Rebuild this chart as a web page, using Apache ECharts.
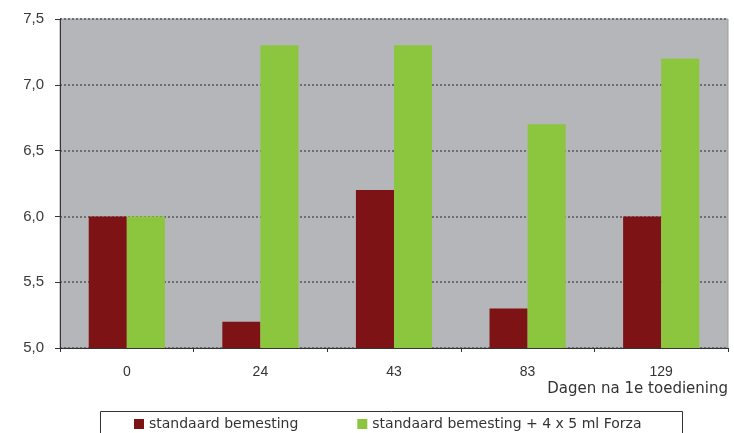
<!DOCTYPE html>
<html>
<head>
<meta charset="utf-8">
<script src="https://cdn.jsdelivr.net/npm/echarts@6/dist/echarts.min.js"></script>
<style>
  html, body { margin: 0; padding: 0; background: #ffffff; }
  #chart { width: 734px; height: 433px; }
</style>
</head>
<body>
<div id="chart"></div>
<script>
// Days after first application
const days = ['0', '24', '43', '83', '129'];
// Standard fertilisation
const standaard = [6.0, 5.2, 6.2, 5.3, 6.0];
// Standard fertilisation plus 4 x 5 ml Forza
const metForza = [6.0, 7.3, 7.3, 6.7, 7.2];
const seriesNames = ['standaard bemesting', 'standaard bemesting + 4 x 5 ml Forza'];
const axisTitle = 'Dagen na 1e toediening';

const chart = echarts.init(document.getElementById('chart'));
const fontFam = '"Liberation Sans", Arial, sans-serif';
const wideFam = '"DejaVu Sans", sans-serif';

chart.setOption({
  backgroundColor: '#ffffff',
  animation: false,
  grid: {
    left: 60, right: 6, top: 19, bottom: 85,
    show: true,
    backgroundColor: '#b4b6ba',
    borderColor: '#9a9ca0',
    borderWidth: 1
  },
  legend: {
    left: 129, top: 412,
    itemWidth: 10, itemHeight: 10, itemGap: 59,
    icon: 'rect',
    textStyle: { fontFamily: wideFam, fontSize: 14, color: '#333' },
    data: seriesNames
  },
  xAxis: {
    type: 'category',
    data: days,
    axisLine: { lineStyle: { color: '#333', width: 1 } },
    axisTick: { show: true, inside: false, length: 4, lineStyle: { color: '#333' } },
    axisLabel: { fontFamily: fontFam, fontSize: 14, color: '#333', margin: 17 },
    splitLine: { show: false }
  },
  yAxis: {
    type: 'value',
    min: 5.0, max: 7.5, interval: 0.5,
    axisLine: { show: true, lineStyle: { color: '#333', width: 1 } },
    axisTick: { show: true, length: 5, lineStyle: { color: '#333' } },
    axisLabel: {
      fontFamily: fontFam, fontSize: 15, color: '#3a3a3a', margin: 16,
      formatter: v => v.toFixed(1).replace('.', ',')
    },
    splitLine: { show: true, lineStyle: { color: '#55575b', type: [2, 2], width: 1.5 } }
  },
  series: [
    {
      name: seriesNames[0], type: 'bar', data: standaard,
      barGap: '0%', barCategoryGap: '43%',
      itemStyle: { color: '#7e1315' }
    },
    {
      name: seriesNames[1], type: 'bar', data: metForza,
      itemStyle: { color: '#8cc63f' }
    }
  ],
  graphic: [
    {
      type: 'text', right: 6, top: 382,
      style: { text: axisTitle, font: '15px "DejaVu Sans", sans-serif', fill: '#333' }
    },
    {
      type: 'rect', left: 100, top: 411, z: -1,
      shape: { width: 582, height: 30 },
      style: { fill: '#ffffff', stroke: '#333', lineWidth: 1 }
    }
  ]
});
</script>
</body>
</html>
